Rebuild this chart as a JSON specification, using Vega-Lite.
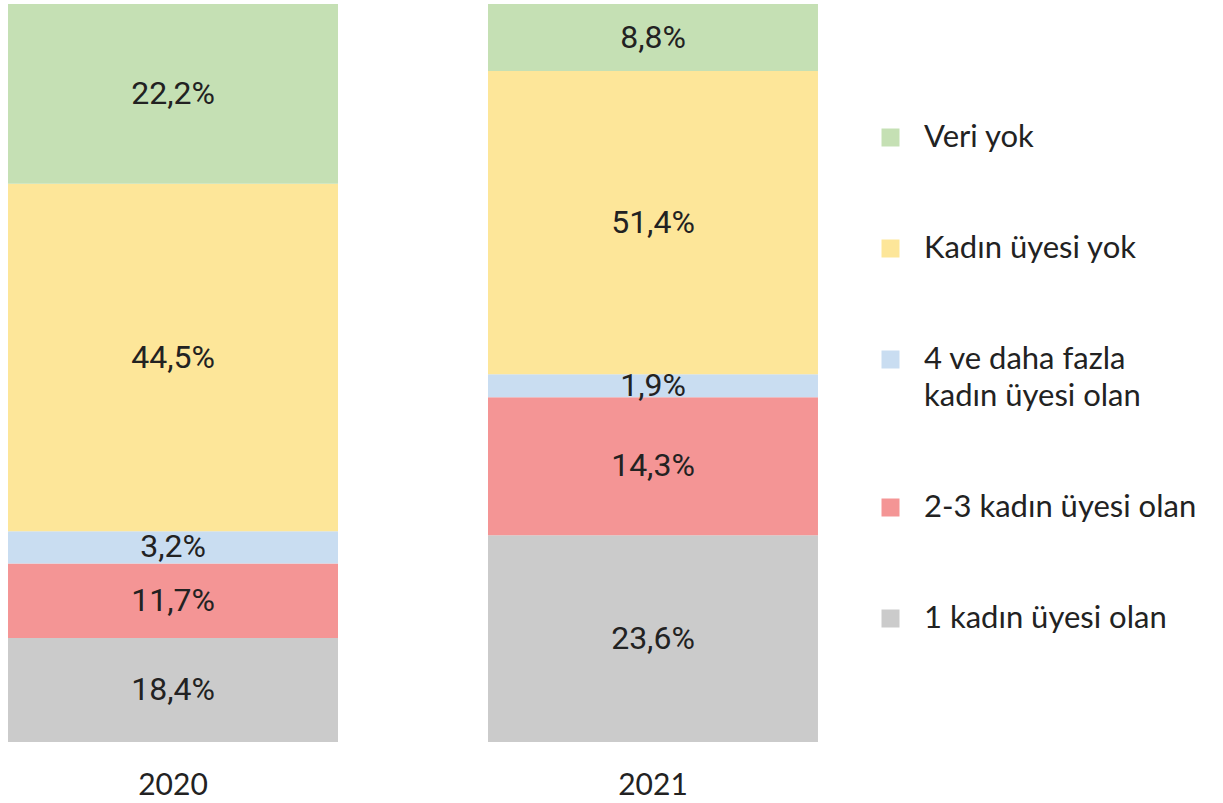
{
  "$schema": "https://vega.github.io/schema/vega-lite/v6.json",
  "width": 826,
  "height": 738,
  "padding": {"left": 0, "top": 4, "right": 0, "bottom": 0},
  "background": "white",
  "data": {
    "values": [
      {"year": "2020", "category": "1 kadın üyesi olan", "ord": 1, "share": 14.1, "label": "18,4%"},
      {"year": "2020", "category": "2-3 kadın üyesi olan", "ord": 2, "share": 10.1, "label": "11,7%"},
      {"year": "2020", "category": "4 ve daha fazla kadın üyesi olan", "ord": 3, "share": 4.35, "label": "3,2%"},
      {"year": "2020", "category": "Kadın üyesi yok", "ord": 4, "share": 47.1, "label": "44,5%"},
      {"year": "2020", "category": "Veri yok", "ord": 5, "share": 24.35, "label": "22,2%"},
      {"year": "2021", "category": "1 kadın üyesi olan", "ord": 1, "share": 28.0, "label": "23,6%"},
      {"year": "2021", "category": "2-3 kadın üyesi olan", "ord": 2, "share": 18.7, "label": "14,3%"},
      {"year": "2021", "category": "4 ve daha fazla kadın üyesi olan", "ord": 3, "share": 3.12, "label": "1,9%"},
      {"year": "2021", "category": "Kadın üyesi yok", "ord": 4, "share": 41.1, "label": "51,4%"},
      {"year": "2021", "category": "Veri yok", "ord": 5, "share": 9.08, "label": "8,8%"}
    ]
  },
  "transform": [
    {"stack": "share", "groupby": ["year"], "sort": [{"field": "ord", "order": "ascending"}], "as": ["y0", "y1"]},
    {"calculate": "(datum.y0 + datum.y1) / 2", "as": "ymid"}
  ],
  "encoding": {
    "x": {
      "field": "year",
      "type": "nominal",
      "title": null,
      "scale": {"paddingInner": 0.3125, "paddingOuter": 0.0167},
      "axis": {
        "domain": false,
        "ticks": false,
        "labelAngle": 0,
        "labelFont": "Lato",
        "labelFontSize": 30,
        "labelColor": "#222222",
        "labelPadding": 28
      }
    }
  },
  "layer": [
    {
      "mark": {"type": "bar", "stroke": null},
      "encoding": {
        "y": {"field": "y0", "type": "quantitative", "scale": {"domain": [0, 100], "nice": false}, "axis": null},
        "y2": {"field": "y1"},
        "color": {
          "field": "category",
          "type": "nominal",
          "scale": {
            "domain": ["Veri yok", "Kadın üyesi yok", "4 ve daha fazla kadın üyesi olan", "2-3 kadın üyesi olan", "1 kadın üyesi olan"],
            "range": ["#C5E0B4", "#FDE699", "#C9DDF1", "#F49595", "#CBCBCB"]
          },
          "legend": {
            "title": null,
            "orient": "none",
            "legendX": 875,
            "legendY": 118,
            "symbolType": "square",
            "symbolSize": 324,
            "symbolStrokeWidth": 0,
            "symbolOpacity": 1,
            "labelFont": "Lato",
            "labelFontSize": 31,
            "labelColor": "#222222",
            "labelOffset": 18,
            "labelLimit": 500,
            "rowPadding": 79,
            "labelExpr": "datum.label == '4 ve daha fazla kadın üyesi olan' ? ['4 ve daha fazla', 'kadın üyesi olan'] : datum.label"
          }
        }
      }
    },
    {
      "mark": {"type": "text", "font": "Roboto", "fontSize": 32, "color": "#222222", "baseline": "middle", "align": "center"},
      "encoding": {
        "y": {"field": "ymid", "type": "quantitative"},
        "text": {"field": "label", "type": "nominal"}
      }
    }
  ],
  "config": {
    "view": {"stroke": null},
    "style": {"guide-label": {"lineHeight": 37}}
  }
}
